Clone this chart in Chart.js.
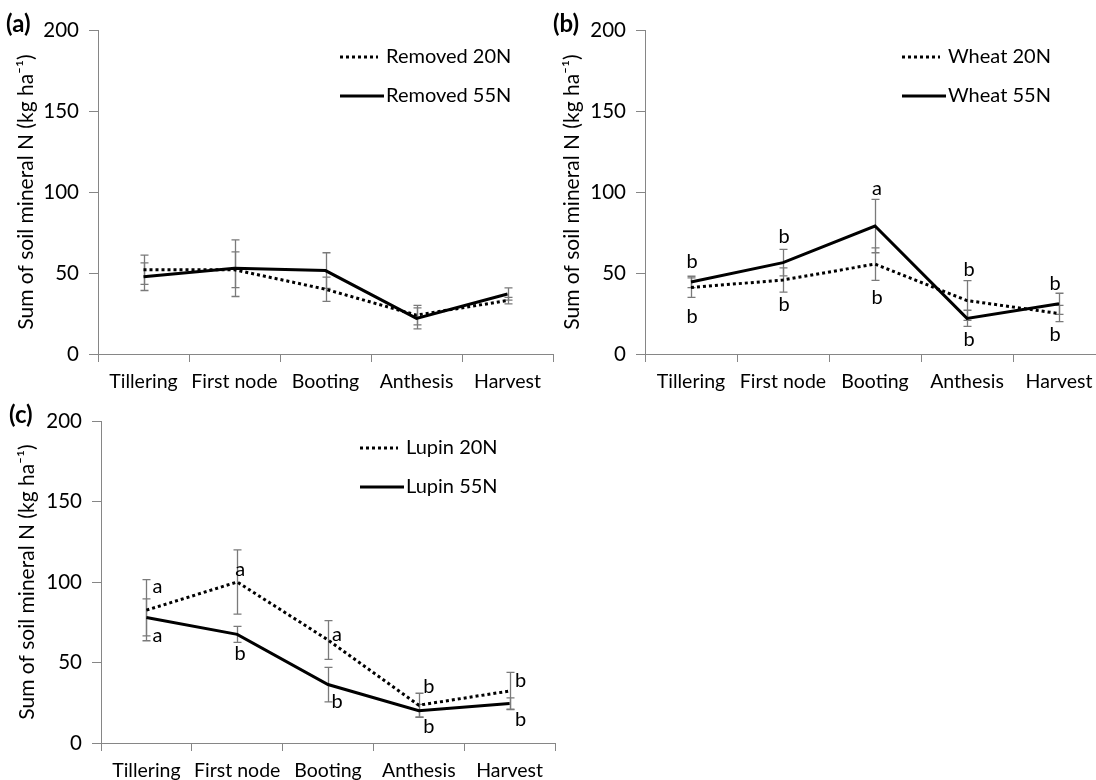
<!DOCTYPE html>
<html>
<head>
<meta charset="utf-8">
<script src="https://cdn.jsdelivr.net/npm/chart.js@4.4.1/dist/chart.umd.min.js"></script>
<style>
  html, body { margin: 0; padding: 0; background: #fff; overflow: hidden; }
  body { width: 1096px; height: 780px; position: relative; }
  canvas { position: absolute; }
</style>
</head>
<body>
<canvas id="panelA" width="560" height="392" style="left:0;top:0"></canvas>
<canvas id="panelB" width="560" height="392" style="left:548px;top:0"></canvas>
<canvas id="panelC" width="560" height="390" style="left:0;top:390px"></canvas>
<script>
const stages = ['Tillering', 'First node', 'Booting', 'Anthesis', 'Harvest'];
const yTicks = [0, 50, 100, 150, 200];
const yTitle = 'Sum of soil mineral N (kg ha\u207B\u00B9)';

// (a) residue removed
const removed20 = [52, 52, 40, 24, 33];
const removed20Err = [9, 11, 7.5, 6, 2];
const removed55 = [47.7, 53, 51.5, 22, 37];
const removed55Err = [8.5, 17.5, 11, 6.5, 3.8];

// (b) wheat residue
const wheat20 = [41, 45.7, 55.5, 33, 25];
const wheat20Err = [6, 7.5, 10, 12.3, 5];
const wheat55 = [44.5, 56.4, 79, 22, 31];
const wheat55Err = [3.5, 8.2, 16.5, 5, 6.5];
const wheatLettersHi = ['b', 'b', 'a', 'b', 'b'];
const wheatLettersHiAt = [57, 72.5, 102, 52.3, 43.2];
const wheatLettersLo = ['b', 'b', 'b', 'b', 'b'];
const wheatLettersLoAt = [23, 30.6, 34.8, 9, 11.7];

// (c) lupin residue
const lupin20 = [82.5, 100, 64, 23.5, 32.3];
const lupin20Err = [19, 20, 12, 7.4, 11.6];
const lupin55 = [78, 67.5, 36.3, 20, 24.5];
const lupin55Err = [11.5, 5, 10.7, 4, 3.5];
const lupinLettersHi = ['a', 'a', 'a', 'b', 'b'];
const lupinLettersHiAt = [97, 107.5, 67.5, 35, 39];
const lupinLettersLo = ['a', 'b', 'b', 'b', 'b'];
const lupinLettersLoAt = [67, 55.7, 26, 10, 14.7];

const axisGrey = '#868686';
const barGrey = '#7a7a7a';

Chart.defaults.font.family = 'Lato';
Chart.defaults.font.size = 19;
Chart.defaults.color = '#000';

// error bars, drawn under the lines
const errorBars = {
    id: 'errorBars',
    beforeDatasetsDraw(chart) {
        const ctx = chart.ctx;
        const xs = chart.scales.x;
        const ys = chart.scales.y;
        ctx.save();
        ctx.strokeStyle = barGrey;
        ctx.lineWidth = 1.3;
        chart.data.datasets.forEach(ds => {
            ds.errors.forEach((e, i) => {
                const px = Math.round(xs.getPixelForValue(i)) + 0.5;
                const top = ys.getPixelForValue(ds.data[i] + e);
                const bot = ys.getPixelForValue(ds.data[i] - e);
                ctx.beginPath();
                ctx.moveTo(px, top);
                ctx.lineTo(px, bot);
                ctx.moveTo(px - 4, top);
                ctx.lineTo(px + 4, top);
                ctx.moveTo(px - 4, bot);
                ctx.lineTo(px + 4, bot);
                ctx.stroke();
            });
        });
        ctx.restore();
    }
};

// panel tag, legend and significance letters
function decor(cfg) {
    return {
        id: 'decor',
        afterDraw(chart) {
            const ctx = chart.ctx;
            const area = chart.chartArea;
            const xs = chart.scales.x;
            const ys = chart.scales.y;
            ctx.save();
            ctx.fillStyle = '#000';
            ctx.textBaseline = 'middle';

            ctx.font = 'bold 24px Lato';
            ctx.textAlign = 'left';
            ctx.fillText(cfg.tag, area.left - 92, area.top - 6);

            // legend
            ctx.font = '20px Lato';
            const lx = area.left + cfg.legendX;
            chart.data.datasets.forEach((ds, k) => {
                const ly = area.top + (k === 0 ? 27 : 66);
                ctx.strokeStyle = ds.borderColor;
                ctx.lineWidth = 3;
                ctx.setLineDash(ds.borderDash || []);
                ctx.beginPath();
                ctx.moveTo(lx, ly);
                ctx.lineTo(lx + (ds.borderDash ? 38 : 44), ly);
                ctx.stroke();
                ctx.setLineDash([]);
                ctx.fillText(ds.label, lx + 46, ly);
            });

            // letters
            if (cfg.letters) {
                ctx.textAlign = 'center';
                cfg.letters.forEach(set => {
                    set.text.forEach((t, i) => {
                        const px = xs.getPixelForValue(i) + cfg.shift[i];
                        ctx.fillText(t, px, ys.getPixelForValue(set.at[i]));
                    });
                });
            }
            ctx.restore();
        }
    };
}

function makePanel(id, cfg) {
    return new Chart(document.getElementById(id), {
        type: 'line',
        data: {
            labels: stages,
            datasets: [{
                label: cfg.names[0],
                data: cfg.low,
                errors: cfg.lowErr,
                borderColor: '#000',
                borderWidth: 3,
                borderDash: [3, 3],
                pointRadius: 0,
                tension: 0,
                fill: false
            },
            {
                label: cfg.names[1],
                data: cfg.high,
                errors: cfg.highErr,
                borderColor: '#000',
                borderWidth: 3,
                pointRadius: 0,
                tension: 0,
                fill: false
            }]
        },
        options: {
            responsive: false,
            animation: false,
            devicePixelRatio: 1,
            layout: {
                padding: { left: cfg.padLeft, top: cfg.padTop, right: cfg.padRight, bottom: 0 }
            },
            plugins: {
                legend: { display: false },
                tooltip: { enabled: false }
            },
            scales: {
                x: {
                    type: 'category',
                    offset: true,
                    grid: { offset: true, drawOnChartArea: false, color: axisGrey, tickLength: 8 },
                    border: { color: axisGrey },
                    ticks: { padding: 8, maxRotation: 0, autoSkip: false, font: { size: 19.5 } },
                    afterFit: s => { s.height = cfg.xHeight; }
                },
                y: {
                    min: yTicks[0],
                    max: yTicks[yTicks.length - 1],
                    ticks: { stepSize: yTicks[1] - yTicks[0], padding: 10, font: { size: 20.5 } },
                    grid: { drawOnChartArea: false, color: axisGrey, tickLength: 9 },
                    border: { color: axisGrey },
                    title: { display: true, text: yTitle, font: { size: 21 }, padding: { top: 2, bottom: 4 } },
                    afterFit: s => { s.width = cfg.yWidth; }
                }
            }
        },
        plugins: [errorBars, decor(cfg)]
    });
}

makePanel('panelA', {
    tag: '(a)',
    names: ['Removed 20N', 'Removed 55N'],
    low: removed20, lowErr: removed20Err,
    high: removed55, highErr: removed55Err,
    padLeft: 12, padTop: 30, padRight: 7, yWidth: 86, xHeight: 38,
    legendX: 242
});

makePanel('panelB', {
    tag: '(b)',
    names: ['Wheat 20N', 'Wheat 55N'],
    low: wheat20, lowErr: wheat20Err,
    high: wheat55, highErr: wheat55Err,
    padLeft: 10, padTop: 30, padRight: 3, yWidth: 87, xHeight: 38,
    legendX: 257,
    letters: [
        { text: wheatLettersHi, at: wheatLettersHiAt },
        { text: wheatLettersLo, at: wheatLettersLoAt }
    ],
    shift: [1, 1, 2, 2, -4]
});

makePanel('panelC', {
    tag: '(c)',
    names: ['Lupin 20N', 'Lupin 55N'],
    low: lupin20, lowErr: lupin20Err,
    high: lupin55, highErr: lupin55Err,
    padLeft: 13, padTop: 31, padRight: 5, yWidth: 88, xHeight: 37,
    legendX: 259,
    letters: [
        { text: lupinLettersHi, at: lupinLettersHiAt },
        { text: lupinLettersLo, at: lupinLettersLoAt }
    ],
    shift: [11, 3, 9, 10, 11]
});
</script>
</body>
</html>
